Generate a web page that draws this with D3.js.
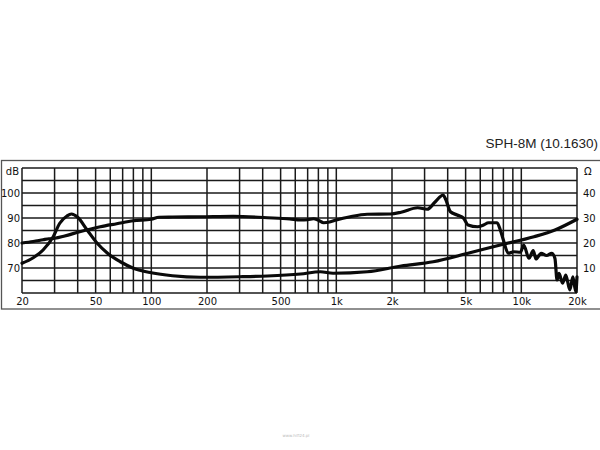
<!DOCTYPE html>
<html>
<head>
<meta charset="utf-8">
<script src="https://cdn.jsdelivr.net/npm/d3@7"></script>
<style>
  html, body { margin: 0; padding: 0; background: #fff; }
  svg { display: block; }
</style>
</head>
<body>
<svg id="chart" width="600" height="450"></svg>
<script>
// ---- data ----
const title = "SPH-8M (10.1630)";
const xTickValues = [20, 50, 100, 200, 500, 1000, 2000, 5000, 10000, 20000];
const xTickLabels = ["20", "50", "100", "200", "500", "1k", "2k", "5k", "10k", "20k"];
const xGridValues = [20,30,40,50,60,70,80,90,100,200,300,400,500,600,700,800,900,1000,2000,3000,4000,5000,6000,7000,8000,9000,10000,20000];
const dbTicks = [70, 80, 90, 100];
const ohmTicks = [10, 20, 30, 40];
const dbGrid = [60, 65, 70, 75, 80, 85, 90, 95, 100, 105, 110];

// SPL response (Hz, dB)
const splFreq = [20, 23, 26, 28, 30, 34, 41, 53, 65, 80, 100, 110, 130, 184, 277, 424, 560, 640, 700, 752, 800, 855, 920, 1000, 1190, 1470, 1960, 2240, 2750, 3100, 3430, 3780, 3900, 4140, 4500, 4880, 5150, 5800, 6250, 6650, 7400, 7700, 8000, 8500, 9100, 9900, 10300, 11000, 11600, 12000, 12800, 13700, 14600, 15200, 15600, 16000, 16700, 17400, 18300, 19000, 19700, 20000];
const splDb   = [80.0, 80.6, 81.3, 81.7, 81.9, 82.8, 84.5, 86.5, 87.7, 88.9, 89.5, 90.3, 90.4, 90.5, 90.7, 90.1, 89.6, 89.2, 89.3, 89.7, 89.1, 88.1, 88.4, 89.2, 90.5, 91.5, 91.6, 92.3, 94.1, 93.5, 96.5, 99.2, 97.5, 92.5, 91.2, 89.9, 87.2, 86.5, 87.2, 88.1, 88.1, 85.2, 81.2, 75.9, 76.5, 76.3, 79.2, 73.9, 77.0, 73.6, 75.9, 75.0, 75.9, 73.8, 65.2, 67.9, 63.9, 67.2, 61.2, 66.5, 60.5, 66.5];

// Impedance (Hz, Ohm)
const impFreq = [20, 23, 26, 29.5, 32, 35, 37, 40, 45, 51, 58, 68, 80, 100, 130, 184, 300, 424, 640, 820, 960, 1470, 2240, 3340, 5150, 7700, 11700, 15200, 20000];
const impOhm  = [11.9, 14.1, 17.2, 22.5, 27.9, 30.8, 31.6, 30.3, 25.2, 19.9, 15.9, 12.5, 9.9, 8.1, 6.9, 6.3, 6.5, 6.8, 7.6, 8.5, 7.9, 8.5, 10.8, 12.5, 15.9, 19.2, 22.5, 25.2, 29.5];

// ---- layout ----
const svg = d3.select("#chart");
const plot = { left: 22, right: 577, top: 168, bottom: 293 };

const x = d3.scaleLog().domain([20, 20000]).range([plot.left, plot.right]);
const yDb = d3.scaleLinear().domain([60, 110]).range([plot.bottom, plot.top]);
const yOhm = d3.scaleLinear().domain([0, 50]).range([plot.bottom, plot.top]);

// outer frame
svg.append("rect")
  .attr("x", 1.5).attr("y", 160.5).attr("width", 600).attr("height", 148.5)
  .attr("fill", "none").attr("stroke", "#555").attr("stroke-width", 1.3);

// title
svg.append("text")
  .attr("x", 598).attr("y", 148)
  .attr("text-anchor", "end")
  .attr("font-family", "Liberation Sans, Arial, sans-serif")
  .attr("font-size", 13.5)
  .attr("fill", "#222")
  .text(title);

// grid
const grid = svg.append("g").attr("stroke", "#1a1a1a").attr("stroke-width", 1.5);
grid.selectAll("line.v").data(xGridValues).join("line")
  .attr("x1", d => x(d)).attr("x2", d => x(d))
  .attr("y1", plot.top).attr("y2", plot.bottom);
grid.selectAll("line.h").data(dbGrid).join("line")
  .attr("x1", plot.left).attr("x2", plot.right)
  .attr("y1", d => yDb(d)).attr("y2", d => yDb(d));

// axes (labels only)
const font = "DejaVu Sans, Verdana, sans-serif";
const fs = 10;
const xAxis = d3.axisBottom(x).tickValues(xTickValues)
  .tickFormat((d, i) => xTickLabels[i]).tickSize(0).tickPadding(5);
const gx = svg.append("g").attr("transform", `translate(0,${plot.bottom})`).call(xAxis);
gx.select(".domain").remove();
gx.selectAll("text").attr("font-family", font).attr("font-size", fs).attr("fill", "#111");

const yAxisL = d3.axisLeft(yDb).tickValues(dbTicks).tickSize(0).tickPadding(2);
const gyl = svg.append("g").attr("transform", `translate(${plot.left},0)`).call(yAxisL);
gyl.select(".domain").remove();
gyl.selectAll("text").attr("font-family", font).attr("font-size", fs).attr("fill", "#111");

const yAxisR = d3.axisRight(yOhm).tickValues(ohmTicks).tickSize(0).tickPadding(6);
const gyr = svg.append("g").attr("transform", `translate(${plot.right},0)`).call(yAxisR);
gyr.select(".domain").remove();
gyr.selectAll("text").attr("font-family", font).attr("font-size", fs).attr("fill", "#111");

svg.append("text").attr("x", 19).attr("y", 175).attr("text-anchor", "end")
  .attr("font-family", font).attr("font-size", fs).attr("fill", "#111").text("dB");
svg.append("text").attr("x", 584).attr("y", 175).attr("text-anchor", "start")
  .attr("font-family", font).attr("font-size", fs).attr("fill", "#111").text("Ω");

// curves
const splLine = d3.line().x((d, i) => x(splFreq[i])).y(d => yDb(d)).curve(d3.curveMonotoneX);
const impLine = d3.line().x((d, i) => x(impFreq[i])).y(d => yOhm(d)).curve(d3.curveMonotoneX);

svg.append("path").datum(impOhm).attr("d", impLine)
  .attr("fill", "none").attr("stroke", "#0a0a0a").attr("stroke-width", 3.2)
  .attr("stroke-linejoin", "round").attr("stroke-linecap", "round");
svg.append("path").datum(splDb).attr("d", splLine)
  .attr("fill", "none").attr("stroke", "#0a0a0a").attr("stroke-width", 3.2)
  .attr("stroke-linejoin", "round").attr("stroke-linecap", "round");

// watermark
svg.append("text").attr("x", 296).attr("y", 437).attr("text-anchor", "middle")
  .attr("font-family", font).attr("font-size", 4).attr("fill", "#bbb").text("www.hifi24.pl");
</script>
</body>
</html>
